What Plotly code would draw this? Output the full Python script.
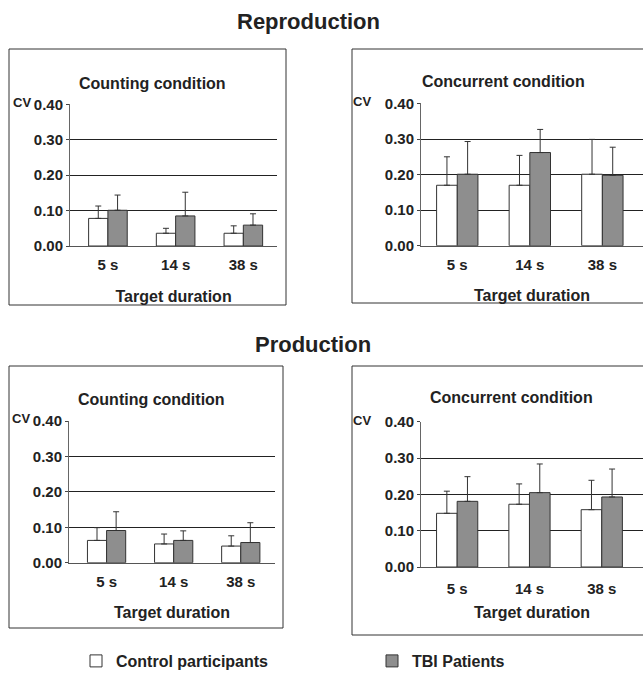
import plotly.graph_objects as go

W, H = 643, 673

categories = ["5 s", "14 s", "38 s"]

# Reproduction - Counting condition
rep_count_ctrl = [0.078, 0.036, 0.036]
rep_count_ctrl_err = [0.035, 0.014, 0.021]
rep_count_tbi = [0.101, 0.085, 0.059]
rep_count_tbi_err = [0.043, 0.067, 0.032]

# Reproduction - Concurrent condition
rep_conc_ctrl = [0.170, 0.170, 0.201]
rep_conc_ctrl_err = [0.080, 0.084, 0.098]
rep_conc_tbi = [0.201, 0.262, 0.198]
rep_conc_tbi_err = [0.092, 0.065, 0.079]

# Production - Counting condition
prod_count_ctrl = [0.063, 0.053, 0.047]
prod_count_ctrl_err = [0.036, 0.028, 0.029]
prod_count_tbi = [0.091, 0.063, 0.057]
prod_count_tbi_err = [0.053, 0.027, 0.056]

# Production - Concurrent condition
prod_conc_ctrl = [0.148, 0.173, 0.158]
prod_conc_ctrl_err = [0.061, 0.056, 0.081]
prod_conc_tbi = [0.181, 0.205, 0.193]
prod_conc_tbi_err = [0.068, 0.079, 0.077]

y_ticks = [0.0, 0.1, 0.2, 0.3, 0.4]
series_names = ["Control participants", "TBI Patients"]
panel_titles = ["Counting condition", "Concurrent condition",
                "Counting condition", "Concurrent condition"]
section_titles = ["Reproduction", "Production"]
x_title = "Target duration"
y_label = "CV"

FONT = "Liberation Sans, Arial, sans-serif"
CTRL_COLOR = "#ffffff"
TBI_COLOR = "#8e8e8e"
EDGE = "#333333"

panels = [
    (rep_count_ctrl, rep_count_ctrl_err, rep_count_tbi, rep_count_tbi_err),
    (rep_conc_ctrl, rep_conc_ctrl_err, rep_conc_tbi, rep_conc_tbi_err),
    (prod_count_ctrl, prod_count_ctrl_err, prod_count_tbi, prod_count_tbi_err),
    (prod_conc_ctrl, prod_conc_ctrl_err, prod_conc_tbi, prod_conc_tbi_err),
]

# plot areas in pixels: (x0, x1, y_top(0.40), y_bottom(0.00), x range,
#                        tick label standoff, title standoff)
areas = [
    (70, 277.2, 104.3, 246.0, [-0.56, 2.5], 5, 18),
    (421, 643, 103.3, 245.7, [-0.5, 2.56], 5, 18),
    (69, 275, 421.0, 562.7, [-0.56, 2.51], 5, 18),
    (421, 643, 421.7, 567.0, [-0.5, 2.57], 8, 10),
]


def px_x(p):
    return p / W


def px_y(p):
    return 1 - p / H


fig = go.Figure()

for i, (ctrl, ctrl_e, tbi, tbi_e) in enumerate(panels):
    ax = "" if i == 0 else str(i + 1)
    fig.add_trace(go.Bar(
        x=categories, y=ctrl, name=series_names[0],
        marker=dict(color=CTRL_COLOR, line=dict(color=EDGE, width=1)),
        error_y=dict(type="data", array=ctrl_e, arrayminus=[0] * len(ctrl_e),
                     symmetric=False, color=EDGE, thickness=1, width=3),
        xaxis="x" + ax, yaxis="y" + ax, offsetgroup="c",
        legendgroup="ctrl", showlegend=(i == 0), legend="legend",
    ))
    fig.add_trace(go.Bar(
        x=categories, y=tbi, name=series_names[1],
        marker=dict(color=TBI_COLOR, line=dict(color=EDGE, width=1)),
        error_y=dict(type="data", array=tbi_e, arrayminus=[0] * len(tbi_e),
                     symmetric=False, color=EDGE, thickness=1, width=3),
        xaxis="x" + ax, yaxis="y" + ax, offsetgroup="t",
        legendgroup="tbi", showlegend=(i == 0), legend="legend2",
    ))

layout = dict(
    width=W, height=H,
    margin=dict(l=0, r=0, t=0, b=0, autoexpand=False),
    paper_bgcolor="white", plot_bgcolor="rgba(0,0,0,0)",
    font=dict(family=FONT, color="#222222"),
    barmode="group", bargap=0.43, bargroupgap=0,
    showlegend=True,
)

for i, (x0, x1, yt, yb, xr, tls, tst) in enumerate(areas):
    ax = "" if i == 0 else str(i + 1)
    layout["xaxis" + ax] = dict(
        domain=[px_x(x0), px_x(x1)], range=xr, anchor="y" + ax,
        type="category", showgrid=False, showline=True, linecolor="#555555",
        linewidth=1, ticks="", ticklabelstandoff=tls,
        tickfont=dict(size=15, family=FONT, color="#222222", weight="bold"),
        title=dict(text="<b>%s</b>" % x_title, standoff=tst,
                   font=dict(size=16, family=FONT, color="#222222")),
        fixedrange=True, zeroline=False, automargin=False,
    )
    layout["yaxis" + ax] = dict(
        domain=[px_y(yb), px_y(yt)], range=[0, 0.4005], anchor="x" + ax,
        tickvals=y_ticks, tickformat=".2f", showgrid=True,
        gridcolor="#222222", gridwidth=1, showline=True, linecolor="#666666",
        linewidth=1, ticks="outside", ticklen=3, tickcolor="#444444",
        tickfont=dict(size=15, family=FONT, color="#222222", weight="bold"),
        zeroline=False, fixedrange=True, automargin=False,
    )

layout["legend"] = dict(
    x=px_x(76), xanchor="left", y=px_y(661), yanchor="middle",
    orientation="h", bgcolor="rgba(0,0,0,0)", borderwidth=0,
    font=dict(size=16, family=FONT, color="#222222", weight="bold"),
)
layout["legend2"] = dict(
    x=px_x(372), xanchor="left", y=px_y(661), yanchor="middle",
    orientation="h", bgcolor="rgba(0,0,0,0)", borderwidth=0,
    font=dict(size=16, family=FONT, color="#222222", weight="bold"),
)

fig.update_layout(**layout)

# panel frames
frames = [(9, 286, 49, 305), (352, 646, 49, 303),
          (9, 283, 366, 628), (352, 646, 366, 635)]
for (x0, x1, y0, y1) in frames:
    fig.add_shape(type="rect", xref="paper", yref="paper",
                  x0=px_x(x0), x1=px_x(x1), y0=px_y(y1), y1=px_y(y0),
                  line=dict(color="#333333", width=1), fillcolor="rgba(0,0,0,0)",
                  layer="below")

# section titles
for text, (cx, cy) in zip(section_titles, [(308, 22), (313, 345)]):
    fig.add_annotation(text="<b>%s</b>" % text, x=px_x(cx), y=px_y(cy),
                       xref="paper", yref="paper", showarrow=False,
                       xanchor="center", yanchor="middle",
                       font=dict(size=22, family=FONT, color="#222222"))

# panel titles
for text, (cx, cy) in zip(panel_titles, [(152, 83), (503, 81), (151, 399.5), (511, 397.5)]):
    fig.add_annotation(text="<b>%s</b>" % text, x=px_x(cx), y=px_y(cy),
                       xref="paper", yref="paper", showarrow=False,
                       xanchor="center", yanchor="middle",
                       font=dict(size=16, family=FONT, color="#222222"))

# CV labels
for (cx, cy) in [(22, 102), (362, 101.5), (21, 418), (362, 420)]:
    fig.add_annotation(text="<b>%s</b>" % y_label, x=px_x(cx), y=px_y(cy),
                       xref="paper", yref="paper", showarrow=False,
                       xanchor="center", yanchor="middle",
                       font=dict(size=13, family=FONT, color="#222222"))

fig.write_html(
    "out.html",
    config={"displayModeBar": False},
    post_script="document.body.style.margin='0';document.body.style.overflow='hidden';",
)
